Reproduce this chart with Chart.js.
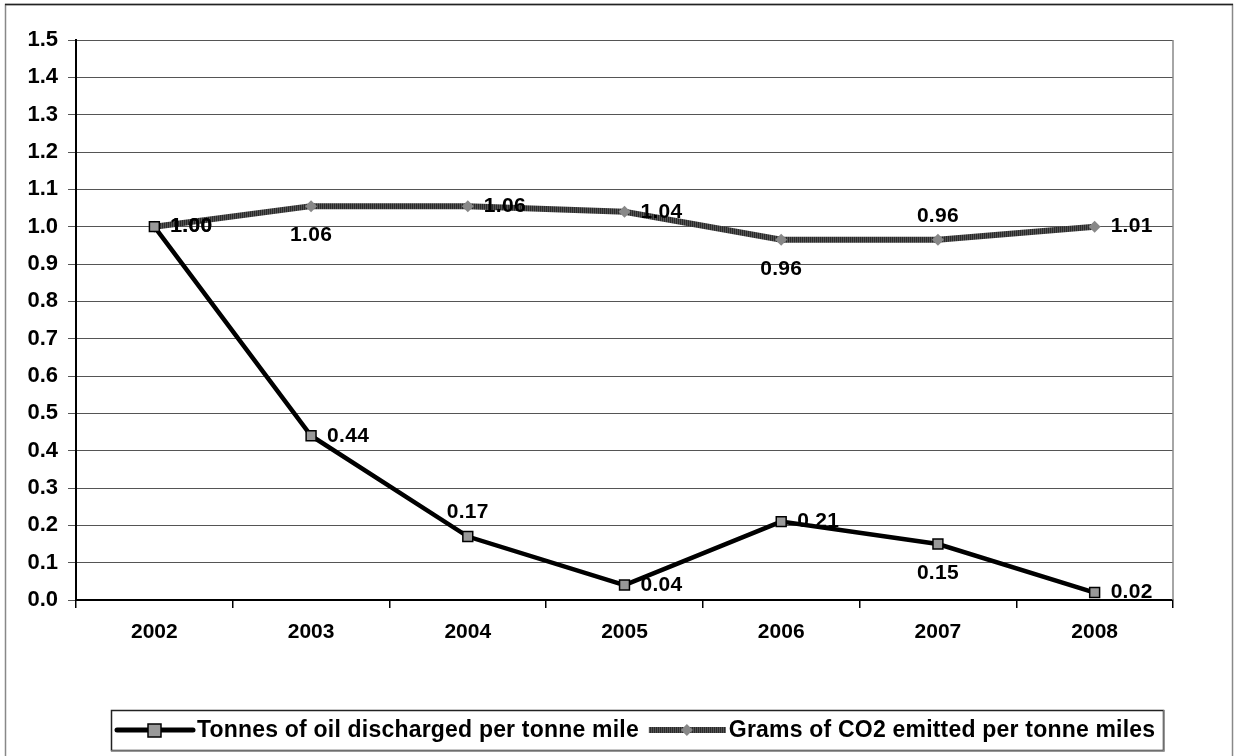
<!DOCTYPE html>
<html>
<head>
<meta charset="utf-8">
<script src="https://cdn.jsdelivr.net/npm/chart.js@4.4.1/dist/chart.umd.min.js"></script>
<style>
  html, body { margin: 0; padding: 0; background: #fff; }
  canvas { display: block; }
</style>
</head>
<body>
<canvas id="chart" width="1234" height="756"></canvas>
<script>
// Chart data
const years = ['2002', '2003', '2004', '2005', '2006', '2007', '2008'];
const oilDischarged = [1.00, 0.44, 0.17, 0.04, 0.21, 0.15, 0.02];
const co2Emitted = [1.00, 1.055, 1.055, 1.04, 0.965, 0.965, 1.00];
const oilLabels = ['1.00', '0.44', '0.17', '0.04', '0.21', '0.15', '0.02'];
const co2Labels = ['1.00', '1.06', '1.06', '1.04', '0.96', '0.96', '1.01'];
const seriesNames = ['Tonnes of oil discharged per tonne mile', 'Grams of CO2 emitted per tonne miles'];

// where each value label sits next to its point
const oilLabelPos = ['right', 'right', 'above', 'right', 'right', 'below', 'right'];
const co2LabelPos = ['right', 'below', 'right', 'right', 'below', 'above', 'right'];

const FONT = '"Liberation Sans", Arial, sans-serif';

// striped pattern for the CO2 line
function makeStripes() {
    const c = document.createElement('canvas');
    c.width = 2; c.height = 2;
    const g = c.getContext('2d');
    g.fillStyle = '#2a2a2a'; g.fillRect(0, 0, 1, 2);
    g.fillStyle = '#555'; g.fillRect(1, 0, 1, 2);
    return g.createPattern(c, 'repeat');
}

// value labels next to the points
const valueLabels = {
    id: 'valueLabels',
    afterDatasetsDraw(chart) {
        const ctx = chart.ctx;
        const sets = [[co2Labels, co2LabelPos, 1], [oilLabels, oilLabelPos, 0]];
        ctx.save();
        ctx.font = 'bold 21px ' + FONT;
        ctx.letterSpacing = '0.3px';
        ctx.fillStyle = '#000';
        sets.forEach(([labels, pos, idx]) => {
            chart.getDatasetMeta(idx).data.forEach((pt, i) => {
                if (pos[i] === 'right') {
                    ctx.textAlign = 'left'; ctx.textBaseline = 'middle';
                    ctx.fillText(labels[i], pt.x + 16, pt.y);
                } else if (pos[i] === 'below') {
                    ctx.textAlign = 'center'; ctx.textBaseline = 'middle';
                    ctx.fillText(labels[i], pt.x, pt.y + 29);
                } else {
                    ctx.textAlign = 'center'; ctx.textBaseline = 'middle';
                    ctx.fillText(labels[i], pt.x, pt.y - 24);
                }
            });
        });
        ctx.restore();
    }
};

// outer frame, plot frame and the boxed legend
const frame = {
    id: 'frame',
    beforeDraw(chart) {
        const ctx = chart.ctx;
        ctx.save();
        ctx.fillStyle = '#fff';
        ctx.fillRect(0, 0, chart.width, chart.height);
        ctx.restore();
    },
    afterDraw(chart) {
        const ctx = chart.ctx;
        const a = chart.chartArea;
        ctx.save();
        // outer border
        ctx.strokeStyle = '#888';
        ctx.lineWidth = 1.5;
        ctx.strokeRect(5.5, 4.5, 1227, 760);
        ctx.strokeStyle = '#222';
        ctx.beginPath(); ctx.moveTo(5, 4.5); ctx.lineTo(1233, 4.5); ctx.stroke();
        // right edge of plot
        ctx.strokeStyle = '#888';
        ctx.lineWidth = 1.5;
        ctx.beginPath(); ctx.moveTo(a.right, a.top); ctx.lineTo(a.right, a.bottom); ctx.stroke();

        // legend
        const top = 710, bottom = 750, left = 111, right = 1163;
        const cy = (top + bottom) / 2;
        ctx.strokeStyle = '#222';
        ctx.lineWidth = 1.5;
        ctx.strokeRect(left + 0.5, top + 0.5, right - left, bottom - top);
        ctx.strokeStyle = '#888';
        ctx.beginPath(); ctx.moveTo(left, bottom + 1); ctx.lineTo(right + 1, bottom + 1); ctx.lineTo(right + 1, top); ctx.stroke();

        ctx.font = 'bold 23px ' + FONT;
        ctx.letterSpacing = '0.2px';
        ctx.textBaseline = 'middle';
        ctx.textAlign = 'left';
        let x = 117;
        // sample 1: black line + square
        ctx.strokeStyle = '#000'; ctx.lineWidth = 5; ctx.lineCap = 'round';
        ctx.beginPath(); ctx.moveTo(x, cy); ctx.lineTo(x + 76, cy); ctx.stroke();
        ctx.lineCap = 'butt';
        ctx.fillStyle = '#999'; ctx.strokeStyle = '#000'; ctx.lineWidth = 1.5;
        ctx.fillRect(x + 31, cy - 6, 13, 13); ctx.strokeRect(x + 31, cy - 6, 13, 13);
        ctx.fillStyle = '#000';
        ctx.fillText(seriesNames[0], x + 80, cy + 1);
        x = x + 80 + ctx.measureText(seriesNames[0]).width + 10;
        // sample 2: striped line + diamond
        ctx.strokeStyle = makeStripes(); ctx.lineWidth = 6;
        ctx.beginPath(); ctx.moveTo(x, cy); ctx.lineTo(x + 77, cy); ctx.stroke();
        ctx.fillStyle = '#888';
        ctx.beginPath();
        ctx.moveTo(x + 38, cy - 6); ctx.lineTo(x + 44, cy); ctx.lineTo(x + 38, cy + 6); ctx.lineTo(x + 32, cy);
        ctx.closePath(); ctx.fill();
        ctx.fillStyle = '#000';
        ctx.fillText(seriesNames[1], x + 80, cy + 1);
        ctx.restore();
    }
};

const ctx = document.getElementById('chart').getContext('2d');
new Chart(ctx, {
    type: 'line',
    data: {
        labels: years,
        datasets: [{
            label: seriesNames[0],
            data: oilDischarged,
            borderColor: '#000',
            borderWidth: 4.5,
            pointStyle: 'rect',
            pointRadius: 7,
            pointBackgroundColor: '#999',
            pointBorderColor: '#000',
            pointBorderWidth: 1.5,
            tension: 0
        }, {
            label: seriesNames[1],
            data: co2Emitted,
            borderColor: makeStripes(),
            borderWidth: 6,
            pointStyle: 'rectRot',
            pointRadius: 6,
            pointBackgroundColor: '#888',
            pointBorderColor: '#888',
            pointBorderWidth: 0,
            tension: 0
        }]
    },
    options: {
        responsive: false,
        animation: false,
        events: [],
        layout: { padding: { left: 0, right: 61, top: 40, bottom: 106 } },
        plugins: {
            legend: { display: false },
            tooltip: { enabled: false }
        },
        scales: {
            x: {
                offset: true,
                afterFit: scale => { scale.height = 50; },
                grid: { drawOnChartArea: false, offset: true, tickLength: 8, color: '#000', lineWidth: 1.5 },
                border: { color: '#000', width: 2 },
                ticks: { color: '#000', padding: 12, font: { family: FONT, size: 21, weight: 'bold' } }
            },
            y: {
                min: 0,
                max: 1.5,
                afterFit: scale => { scale.width = 76; },
                grid: { color: '#555', lineWidth: 1, tickLength: 8 },
                border: { color: '#000', width: 2 },
                ticks: {
                    stepSize: 0.1,
                    color: '#000',
                    padding: 10,
                    font: { family: FONT, size: 22, weight: 'bold' },
                    callback: v => v.toFixed(1)
                }
            }
        }
    },
    plugins: [frame, valueLabels]
});
</script>
</body>
</html>
